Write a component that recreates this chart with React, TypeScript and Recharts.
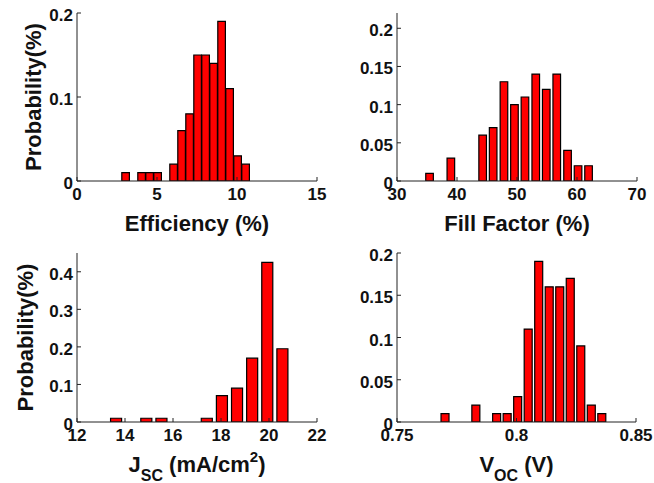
import { Bar, BarChart, XAxis, YAxis } from "recharts"

// Efficiency (%)
const effBins = [3.05, 4.05, 4.55, 5.05, 6.05, 6.55, 7.05, 7.55, 8.05, 8.55, 9.05, 9.55, 10.05, 10.55]
const effProb = [0.01, 0.01, 0.01, 0.01, 0.02, 0.06, 0.08, 0.15, 0.15, 0.14, 0.19, 0.11, 0.03, 0.02]
const effTicksX = [0, 5, 10, 15]
const effTicksY = [0, 0.1, 0.2]

// Fill Factor (%)
const ffBins = [35.5, 39.05, 44.35, 46.1, 47.9, 49.65, 51.4, 53.2, 54.95, 56.7, 58.5, 60.25, 62.0]
const ffProb = [0.01, 0.03, 0.06, 0.07, 0.13, 0.1, 0.11, 0.14, 0.12, 0.14, 0.04, 0.02, 0.02]
const ffTicksX = [30, 40, 50, 60, 70]
const ffTicksY = [0, 0.05, 0.1, 0.15, 0.2]

// Jsc (mA/cm2)
const jscBins = [13.63, 14.89, 15.52, 17.41, 18.04, 18.67, 19.3, 19.93, 20.56]
const jscProb = [0.01, 0.01, 0.01, 0.01, 0.07, 0.09, 0.17, 0.425, 0.195]
const jscTicksX = [12, 14, 16, 18, 20, 22]
const jscTicksY = [0, 0.1, 0.2, 0.3, 0.4]

// Voc (V)
const vocBins = [0.7702, 0.7831, 0.7918, 0.7962, 0.8006, 0.805, 0.8094, 0.8138, 0.8182, 0.8226, 0.827, 0.8314, 0.8358]
const vocProb = [0.01, 0.02, 0.01, 0.01, 0.03, 0.11, 0.19, 0.16, 0.16, 0.17, 0.09, 0.02, 0.01]
const vocTicksX = [0.75, 0.8, 0.85]
const vocTicksY = [0, 0.05, 0.1, 0.15, 0.2]

const font = '"Liberation Sans", Arial, Helvetica, sans-serif'
const ink = "#111"
const tickStyle = { fill: ink, fontSize: 17, fontWeight: 700, fontFamily: font }
const titleStyle = { fill: ink, fontSize: 22, fontWeight: 700, fontFamily: font }

type Box = { x: number; y: number; w: number; h: number }
type Title = { main: string; sub?: string; rest?: string; sup?: string; end?: string }

function xTitle(t: Title) {
  return (props: any) => {
    const vb = props.viewBox || { x: 0, y: 0, width: 0 }
    return (
      <text x={vb.x + vb.width / 2} y={vb.y + 50} textAnchor="middle" style={titleStyle}>
        {t.main}
        {t.sub && (
          <tspan dy={9} fontSize={16}>
            {t.sub}
          </tspan>
        )}
        {t.rest && (
          <tspan dy={t.sub ? -9 : 0} fontSize={22}>
            {t.rest}
          </tspan>
        )}
        {t.sup && (
          <tspan dy={-10} fontSize={15}>
            {t.sup}
          </tspan>
        )}
        {t.end && (
          <tspan dy={t.sup ? 10 : 0} fontSize={22}>
            {t.end}
          </tspan>
        )}
      </text>
    )
  }
}

function yTitle(label: string, cx: number) {
  return (props: any) => {
    const vb = props.viewBox || { y: 0, height: 0 }
    const cy = vb.y + vb.height / 2
    return (
      <text
        x={cx}
        y={cy}
        textAnchor="middle"
        dominantBaseline="central"
        transform={`rotate(-90, ${cx}, ${cy})`}
        style={titleStyle}
      >
        {label}
      </text>
    )
  }
}

function Panel({
  left,
  top,
  width,
  height,
  plot,
  bins,
  probs,
  binWidth,
  fill,
  xDomain,
  xTicks,
  yDomain,
  yTicks,
  title,
  ylabel,
  ylabelX,
}: {
  left: number
  top: number
  width: number
  height: number
  plot: Box
  bins: number[]
  probs: number[]
  binWidth: number
  fill: number
  xDomain: [number, number]
  xTicks: number[]
  yDomain: [number, number]
  yTicks: number[]
  title: Title
  ylabel?: string
  ylabelX?: number
}) {
  const data = bins.map((x, i) => ({ x, p: probs[i] }))
  const barSize = (binWidth / (xDomain[1] - xDomain[0])) * plot.w * fill
  const line = { stroke: "#222", strokeWidth: 1 }

  return (
    <div style={{ position: "absolute", left, top }}>
      <BarChart
        width={width}
        height={height}
        data={data}
        margin={{ top: plot.y, right: width - plot.x - plot.w, bottom: 0, left: 0 }}
        barCategoryGap={0}
      >
        <XAxis
          xAxisId="b"
          dataKey="x"
          type="number"
          domain={xDomain}
          ticks={xTicks}
          allowDataOverflow
          interval={0}
          height={height - plot.y - plot.h}
          tickSize={-4}
          tickMargin={11}
          tick={tickStyle}
          tickLine={line}
          axisLine={line}
          label={xTitle(title)}
        />
        <XAxis
          xAxisId="t"
          dataKey="x"
          type="number"
          orientation="top"
          domain={xDomain}
          ticks={xTicks}
          allowDataOverflow
          interval={0}
          height={0}
          tickSize={-4}
          tick={false}
          tickLine={line}
          axisLine={line}
        />
        <YAxis
          yAxisId="l"
          type="number"
          domain={yDomain}
          ticks={yTicks}
          allowDataOverflow
          interval={0}
          width={plot.x}
          tickSize={-4}
          tickMargin={8}
          tick={{ ...tickStyle, dy: 2 }}
          tickLine={line}
          axisLine={line}
          label={ylabel ? yTitle(ylabel, ylabelX ?? 30) : undefined}
        />
        <YAxis
          yAxisId="r"
          type="number"
          orientation="right"
          domain={yDomain}
          ticks={yTicks}
          allowDataOverflow
          interval={0}
          width={0}
          tickSize={-4}
          tick={false}
          tickLine={line}
          axisLine={line}
        />
        <Bar
          xAxisId="b"
          yAxisId="l"
          dataKey="p"
          fill="#ff0000"
          stroke="#000"
          strokeWidth={1.2}
          barSize={barSize}
          isAnimationActive={false}
        />
      </BarChart>
    </div>
  )
}

export default function App() {
  return (
    <div
      style={{
        position: "absolute",
        left: 0,
        top: 0,
        width: 654,
        height: 483,
        background: "#fff",
      }}
    >
      <Panel
        left={0}
        top={0}
        width={327}
        height={241}
        plot={{ x: 77, y: 13, w: 240, h: 168 }}
        bins={effBins}
        probs={effProb}
        binWidth={0.5}
        fill={0.95}
        xDomain={[0, 15]}
        xTicks={effTicksX}
        yDomain={[0, 0.2]}
        yTicks={effTicksY}
        title={{ main: "Efficiency (%)" }}
        ylabel="Probability(%)"
        ylabelX={33}
      />
      <Panel
        left={327}
        top={0}
        width={327}
        height={241}
        plot={{ x: 70, y: 13, w: 240, h: 168 }}
        bins={ffBins}
        probs={ffProb}
        binWidth={1.76}
        fill={0.72}
        xDomain={[30, 70]}
        xTicks={ffTicksX}
        yDomain={[0, 0.22]}
        yTicks={ffTicksY}
        title={{ main: "Fill Factor (%)" }}
      />
      <Panel
        left={0}
        top={241}
        width={327}
        height={242}
        plot={{ x: 77, y: 12, w: 240, h: 169 }}
        bins={jscBins}
        probs={jscProb}
        binWidth={0.63}
        fill={0.73}
        xDomain={[12, 22]}
        xTicks={jscTicksX}
        yDomain={[0, 0.45]}
        yTicks={jscTicksY}
        title={{ main: "J", sub: "SC", rest: " (mA/cm", sup: "2", end: ")" }}
        ylabel="Probability(%)"
        ylabelX={25}
      />
      <Panel
        left={327}
        top={241}
        width={327}
        height={242}
        plot={{ x: 70, y: 12, w: 239, h: 169 }}
        bins={vocBins}
        probs={vocProb}
        binWidth={0.0044}
        fill={0.76}
        xDomain={[0.75, 0.85]}
        xTicks={vocTicksX}
        yDomain={[0, 0.2]}
        yTicks={vocTicksY}
        title={{ main: "V", sub: "OC", rest: " (V)" }}
      />
    </div>
  )
}
